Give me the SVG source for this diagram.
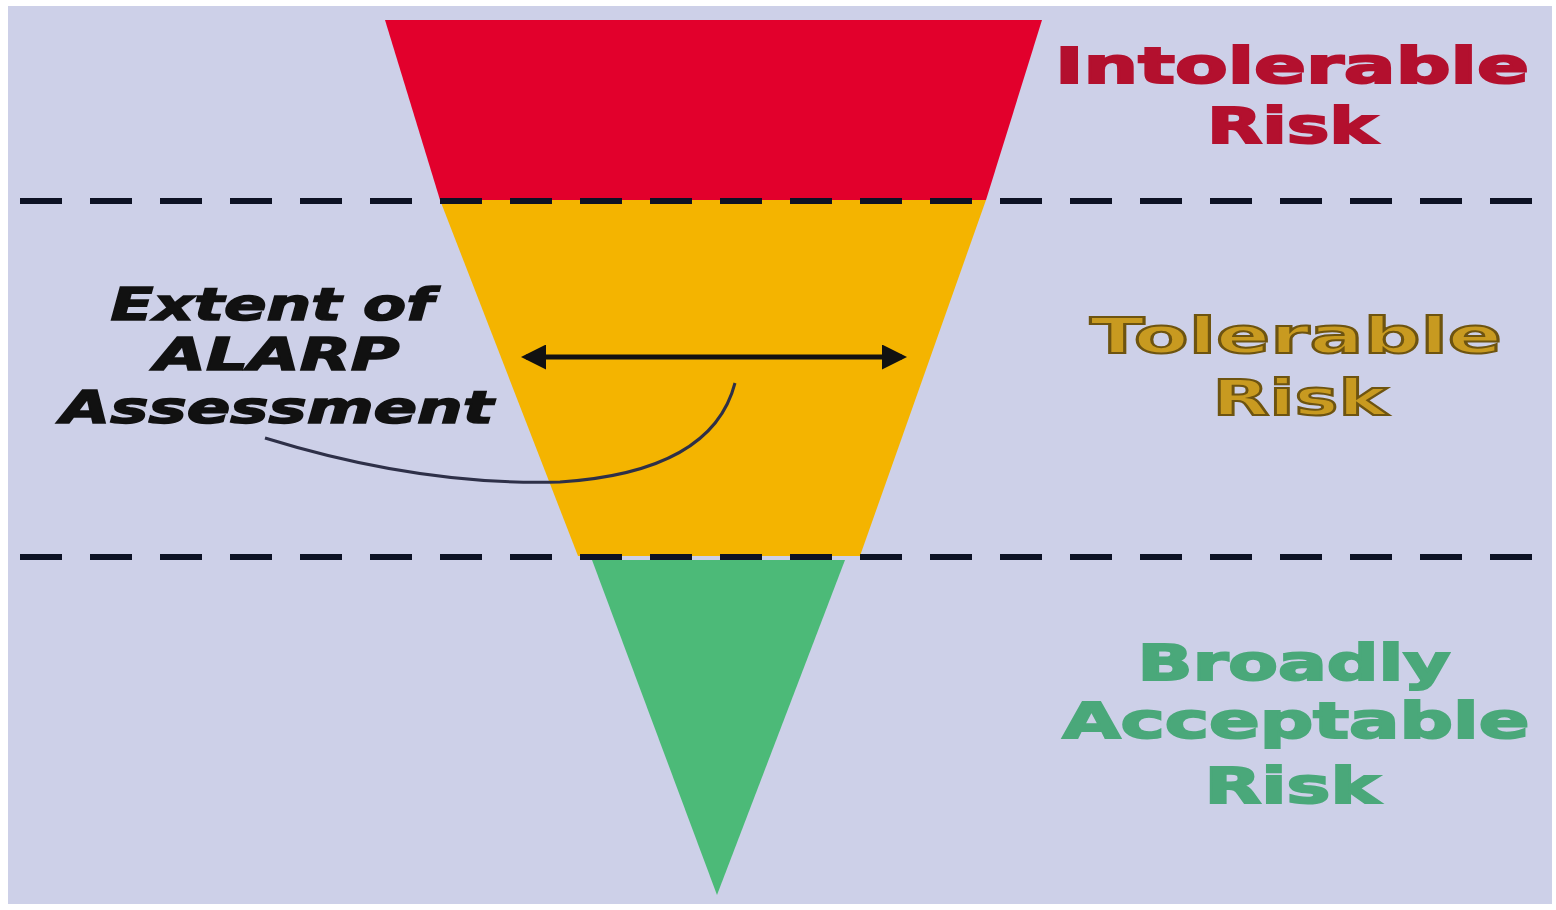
<svg xmlns="http://www.w3.org/2000/svg" width="1556" height="910" viewBox="0 0 1556 910">
<defs>
<style>
.lbl{font-family:"DejaVu Sans","Verdana",sans-serif;font-weight:bold;font-size:50px;text-anchor:middle;stroke-width:2}
.ext{font-family:"DejaVu Sans","Verdana",sans-serif;font-weight:bold;font-style:italic;font-size:44px;text-anchor:middle;fill:#111;stroke:#111;stroke-width:1.5}
.dash{stroke:#0d1224;stroke-width:6;stroke-dasharray:42 28;fill:none}
</style>
<marker id="ah" viewBox="0 0 10 10" refX="8" refY="5" markerWidth="5" markerHeight="5" orient="auto-start-reverse">
<path d="M0,0 L10,5 L0,10 z" fill="#111"/>
</marker>
</defs>
<rect x="0" y="0" width="1556" height="910" fill="#ffffff"/>
<rect x="8" y="6" width="1544" height="898" fill="#cdd0e8"/>
<g id="intolerable">
<polygon points="385,20 1042,20 986,200 440,200" fill="#e2002c"/>
<text class="lbl" x="1292" y="83" fill="#b3102e" stroke="#b3102e" textLength="474" lengthAdjust="spacingAndGlyphs">Intolerable</text>
<text class="lbl" x="1292" y="143" fill="#b3102e" stroke="#b3102e" textLength="170" lengthAdjust="spacingAndGlyphs">Risk</text>
</g>
<g id="tolerable">
<polygon points="440,200 986,200 860,556 578,556" fill="#f4b400"/>
<text class="lbl" x="1296" y="353" fill="#c89a20" stroke="#6e5410" textLength="412" lengthAdjust="spacingAndGlyphs">Tolerable</text>
<text class="lbl" x="1300" y="415" fill="#c89a20" stroke="#6e5410" textLength="175" lengthAdjust="spacingAndGlyphs">Risk</text>
</g>
<g id="acceptable">
<polygon points="592,560 845,560 717,895" fill="#4cba78"/>
<text class="lbl" x="1294" y="680" fill="#4aa87a" stroke="#4aa87a" textLength="313" lengthAdjust="spacingAndGlyphs">Broadly</text>
<text class="lbl" x="1296" y="738" fill="#4aa87a" stroke="#4aa87a" textLength="467" lengthAdjust="spacingAndGlyphs">Acceptable</text>
<text class="lbl" x="1292" y="803" fill="#4aa87a" stroke="#4aa87a" textLength="175" lengthAdjust="spacingAndGlyphs">Risk</text>
</g>
<g id="alarp">
<text class="ext" x="272" y="320" textLength="323" lengthAdjust="spacingAndGlyphs">Extent of</text>
<text class="ext" x="277" y="370" textLength="245" lengthAdjust="spacingAndGlyphs">ALARP</text>
<text class="ext" x="277" y="423" textLength="433" lengthAdjust="spacingAndGlyphs">Assessment</text>
</g>
<g id="connectors">
<line class="dash" x1="20" y1="201" x2="1552" y2="201"/>
<line class="dash" x1="20" y1="557" x2="1552" y2="557"/>
<line x1="526" y1="357" x2="902" y2="357" stroke="#111" stroke-width="5" marker-start="url(#ah)" marker-end="url(#ah)"/>
<path d="M265,438 Q420,486 560,482 Q712,472 735,383" fill="none" stroke="#2e3048" stroke-width="3"/>
</g>
</svg>
